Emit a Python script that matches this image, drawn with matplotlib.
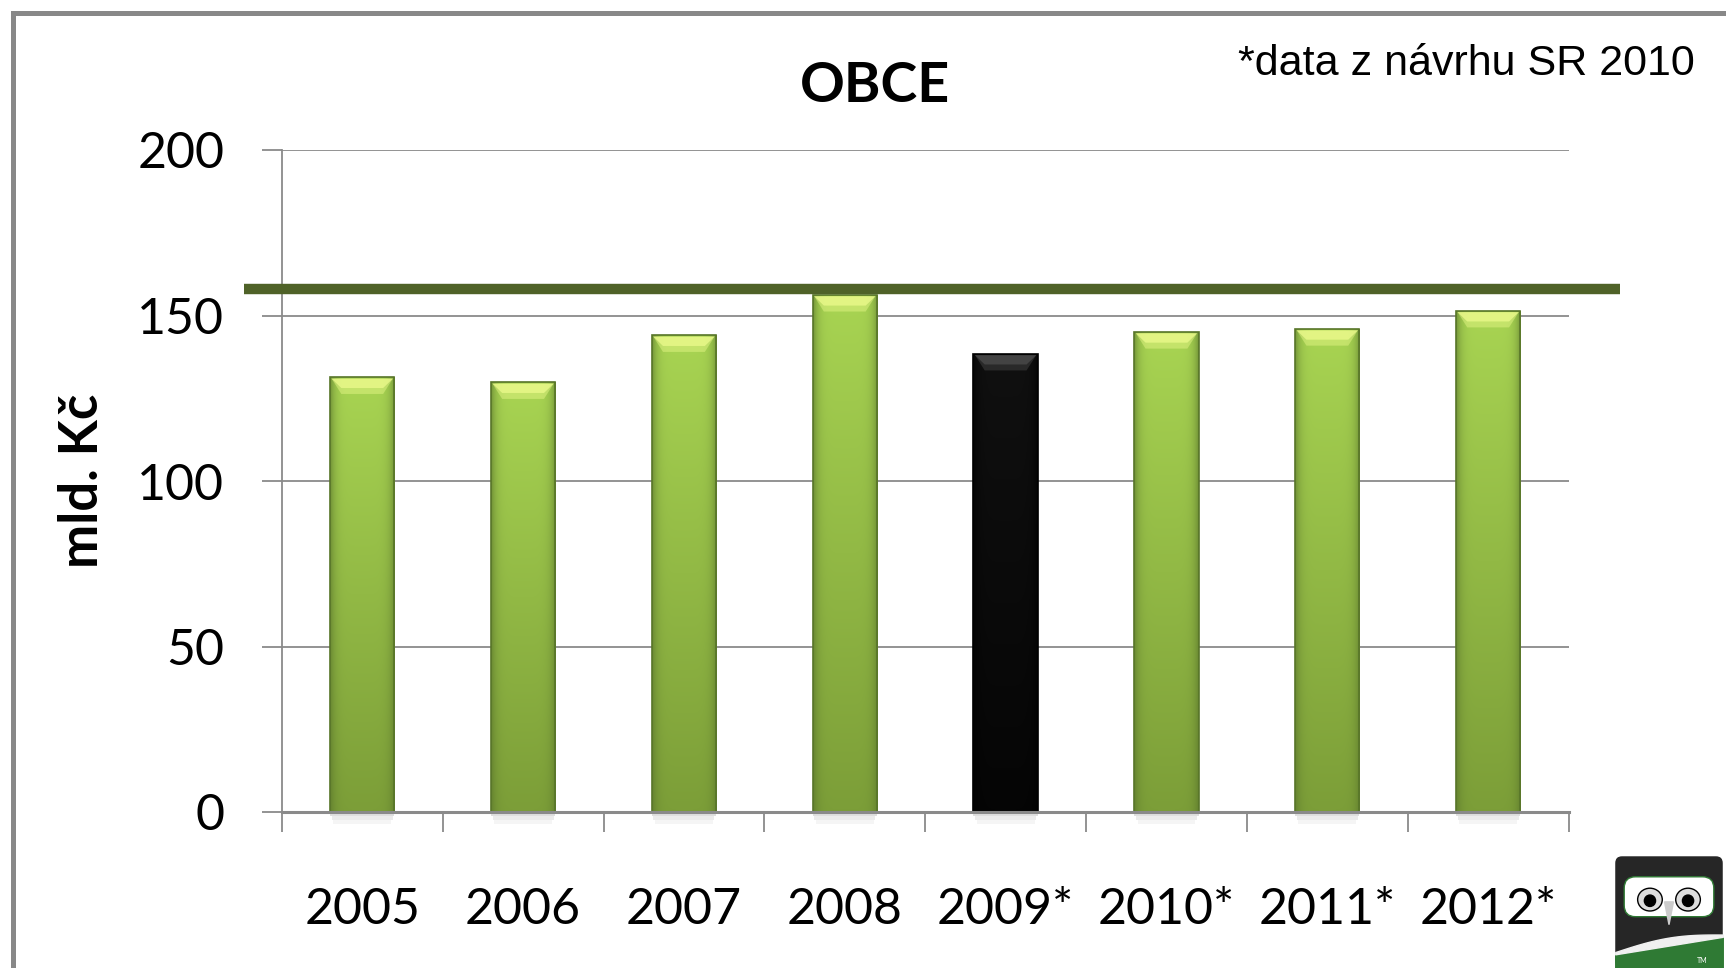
import matplotlib
matplotlib.use('Agg')
import matplotlib.pyplot as plt
import numpy as np
from matplotlib.patches import Rectangle, Polygon, FancyBboxPatch, Ellipse, Circle
from matplotlib.colors import to_rgb

categories = ['2005', '2006', '2007', '2008', '2009*', '2010*', '2011*', '2012*']
values = [131.3, 129.8, 144.0, 156.2, 138.4, 145.0, 145.9, 151.4]
highlight = '2009*'
reference_level = 158.0
yticks = [0, 50, 100, 150, 200]
title = 'OBCE'
ylabel = 'mld. Kč'
note = '*data z návrhu SR 2010'

FONT = ['Lato', 'DejaVu Sans']
plt.rcParams['font.family'] = FONT

W, H = 1726, 968
fig = plt.figure(figsize=(W / 100, H / 100), dpi=100)
fig.patch.set_facecolor('white')
ax = fig.add_axes([281.8 / W, 1 - 812 / H, (1568.6 - 281.8) / W, (812 - 150) / H])

x = np.arange(len(categories))
bw = 0.4
ax.set_xlim(-0.5, len(categories) - 0.5)
ax.set_ylim(0, 200)

# grid
ax.set_yticks(yticks)
ax.yaxis.grid(True, color='#8a8a8a', lw=1.3)
ax.set_axisbelow(True)

def bar_image(base_top, base_bot, edge_dark):
    ny, nx = 100, 60
    t = np.linspace(1, 0, ny)[:, None]  # 1 at top row
    top = np.array(to_rgb(base_top)); bot = np.array(to_rgb(base_bot))
    img = bot[None, None, :] * (1 - t[..., None]) + top[None, None, :] * t[..., None]
    img = np.repeat(img, nx, axis=1)
    u = np.linspace(-1, 1, nx)[None, :]
    f = np.clip(np.abs(u) ** 6, 0, 1)
    dark = np.array(to_rgb(edge_dark))
    img = img * (1 - 0.6 * f[..., None]) + dark[None, None, :] * 0.6 * f[..., None]
    return img

bars = ax.bar(x, values, width=bw, zorder=3)
for xi, v, cat, b in zip(x, values, categories, bars):
    is_hl = cat == highlight
    if is_hl:
        img = bar_image('#101010', '#050505', '#000000')
        bevel = '#4a4a4a'
        edge = '#000000'
    else:
        img = bar_image('#a8d452', '#7c9e38', '#55702a')
        bevel = '#eaf98a'
        edge = '#587529'
    b.set_facecolor('none')
    b.set_edgecolor(edge)
    b.set_linewidth(1.2)
    im = ax.imshow(img, extent=(xi - bw / 2, xi + bw / 2, 0, v), aspect='auto',
                   zorder=2.9, interpolation='bilinear')
    im.set_clip_path(b)
    # top bevel (two layers for a soft gradient)
    for bh, a in [(5.0, 0.45), (3.2, 0.8)]:
        poly = Polygon([(xi - bw / 2 + 0.01, v - 0.4), (xi + bw / 2 - 0.01, v - 0.4),
                        (xi + bw / 2 - 0.07, v - bh), (xi - bw / 2 + 0.07, v - bh)],
                       closed=True, facecolor=bevel, edgecolor='none', alpha=a, zorder=3.1)
        ax.add_patch(poly)
    # shadow below bar
    for k, a in enumerate([0.25, 0.15, 0.08]):
        ax.add_patch(Rectangle((xi - bw / 2 + 0.01 * k, -1.2 * (k + 1)), bw - 0.02 * k, 1.2,
                               facecolor='#808080', edgecolor='none', alpha=a,
                               clip_on=False, zorder=1))

# reference line
ax.plot([-0.735, 7.82], [reference_level, reference_level], color='#4f6228', lw=7.5,
        solid_capstyle='butt', clip_on=False, zorder=4)

# spines
for s in ['top', 'right']:
    ax.spines[s].set_visible(False)
ax.spines['left'].set_color('#8a8a8a')
ax.spines['left'].set_linewidth(1.3)
ax.spines['bottom'].set_color('#8a8a8a')
ax.spines['bottom'].set_linewidth(2.2)
ax.spines['bottom'].set_zorder(5)

# x ticks at boundaries, labels at centers
ax.set_xticks(np.arange(len(categories) + 1) - 0.5)
ax.set_xticklabels([])
ax.set_xticks(x, minor=True)
ax.set_xticklabels(categories, minor=True)
ax.tick_params(axis='x', which='major', length=14.5, width=1.3, color='#8a8a8a', direction='out')
ax.tick_params(axis='x', which='minor', length=0, pad=54, labelsize=36)
ax.tick_params(axis='y', length=14.5, width=1.3, color='#8a8a8a', direction='out',
               pad=27, labelsize=36)

fig.text(875 / W, 1 - 86 / H, title, ha='center', va='center', fontsize=40,
         fontweight='bold', family=FONT)
fig.text(1695 / W, 1 - 64 / H, note, ha='right', va='center', fontsize=31,
         family=['Liberation Sans', 'DejaVu Sans'])
fig.text(83 / W, 1 - 481 / H, ylabel, rotation=90, ha='center', va='center',
         fontsize=38, fontweight='bold', family=FONT)

# frame
fig.patches.append(Rectangle((12.5 / W, -0.2), 1.5, 1.2 - 12.5 / H, transform=fig.transFigure,
                             fill=False, edgecolor='#888888', lw=3.6, zorder=0))

# logo
lax = fig.add_axes([1613 / W, 0, 112 / W, 114 / H])
lax.set_xlim(0, 1); lax.set_ylim(0, 1); lax.axis('off')
lax.add_patch(FancyBboxPatch((0.02, 0.0), 0.96, 0.98, boxstyle='round,pad=0,rounding_size=0.06',
                             facecolor='#262626', edgecolor='none'))
tt = np.linspace(0.02, 0.98, 50)
upper = 0.12 + 0.16 * (tt - 0.02)
lax.fill_between(tt, 0, upper, color='#2f7a34')
lax.fill_between(tt, upper, upper + 0.05 * np.sin(np.pi * (tt - 0.02) / 0.96) + 0.02, color='#f0f0f0')
lax.text(0.8, 0.07, 'TM', color='white', fontsize=5, ha='center', va='center')
lax.add_patch(FancyBboxPatch((0.1, 0.45), 0.8, 0.35, boxstyle='round,pad=0,rounding_size=0.1',
                             facecolor='white', edgecolor='#2f7a34', lw=1))
lax.add_patch(Ellipse((0.33, 0.6), 0.22, 0.2, facecolor='#dddddd', edgecolor='black', lw=1))
lax.add_patch(Ellipse((0.67, 0.6), 0.22, 0.2, facecolor='#dddddd', edgecolor='black', lw=1))
lax.add_patch(Circle((0.33, 0.59), 0.05, color='black'))
lax.add_patch(Circle((0.67, 0.59), 0.05, color='black'))
lax.add_patch(Polygon([(0.46, 0.58), (0.54, 0.58), (0.5, 0.38)], color='#cccccc'))

fig.savefig('out.png', dpi=100)
